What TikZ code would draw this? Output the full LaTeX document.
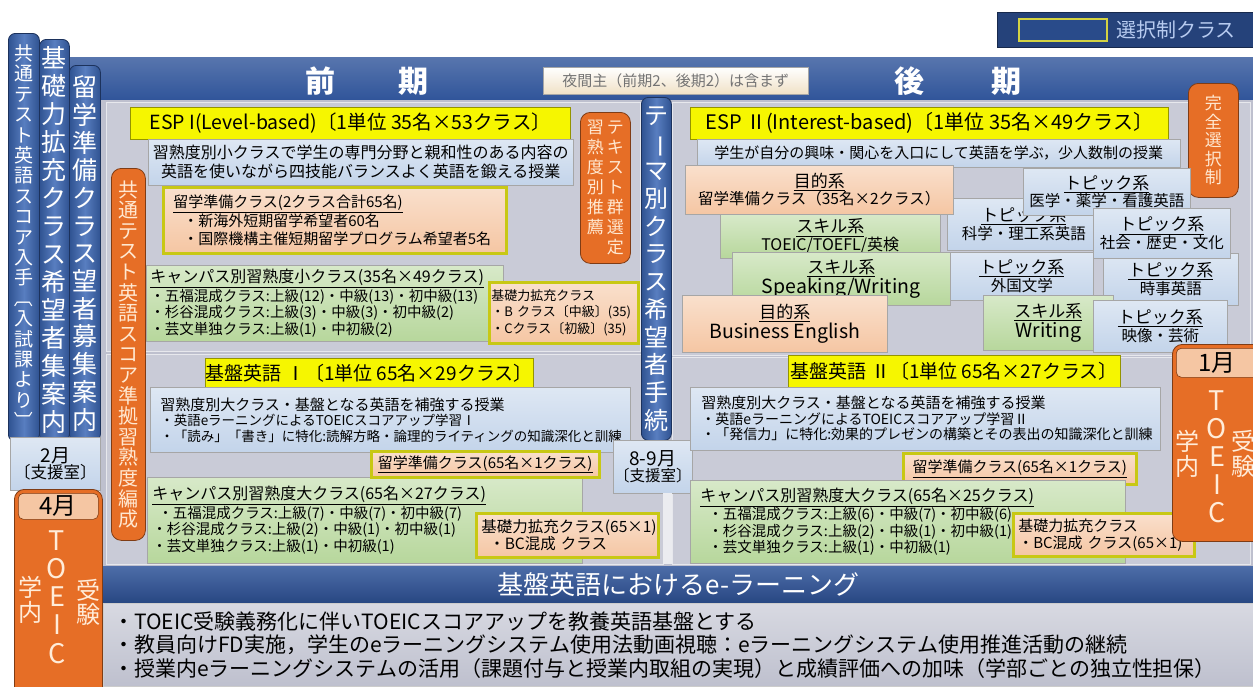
\documentclass[tikz,border=0pt]{standalone}
\usepackage{fontspec}
\setmainfont{Noto Sans CJK JP}
\usepackage{graphicx}
\definecolor{bggray}{HTML}{BEC0CE}
\definecolor{pngray}{HTML}{C9CBD7}
\definecolor{hdrblue}{HTML}{2E5399}
\definecolor{tabblue}{HTML}{3B67B5}
\definecolor{lblue}{HTML}{C3D4EA}
\definecolor{peach}{HTML}{F5C6A3}
\definecolor{mgreen}{HTML}{B7D79C}
\definecolor{ylw}{HTML}{F6F600}
\definecolor{orng}{HTML}{E66E26}
\definecolor{ybord}{HTML}{C8C814}
\definecolor{cream}{HTML}{FAF5E0}
\definecolor{legtext}{HTML}{B7CBF0}
\makeatletter
\newcommand\vtext[2]{\vtop{\baselineskip=#1\lineskiplimit=-\maxdimen\@tfor\vt@c:=#2\do{\hbox to 1em{\hss\vt@c\hss}}}}
\makeatother
\newcommand\rot[1]{\rotatebox[origin=c]{-90}{#1}}
\newcommand\FS[2]{\fontsize{#1}{#2}\selectfont}
\newcommand\BX[7]{\node[anchor=north west,inner sep=0pt,minimum width={(#5-#3)*1pt},minimum height={(#6-#4)*1pt},#1] (#2) at (#3,#4) {#7};}
\tikzset{
  bx/.style={draw=black!35, line width=0.5pt},
  lb/.style={bx, top color=lblue!55!white, bottom color=lblue},
  pk/.style={bx, top color=peach!55!white, bottom color=peach},
  gr/.style={bx, top color=mgreen!55!white, bottom color=mgreen},
  ypk/.style={pk, draw=ybord, line width=2.5pt},
  yb/.style={fill=ylw, draw=ylw!60!black, line width=0.5pt},
  vtab/.style={left color=tabblue!80!black, right color=tabblue!80!black, middle color=tabblue!85!white, draw=hdrblue!60!black, line width=0.8pt, rounded corners=7pt, text=white},
  otab/.style={fill=orng, draw=orng!55!black, line width=0.8pt, rounded corners=10pt, text=white!82!orange},
  lab/.style={fill=peach, draw=orng!55!black, line width=0.6pt, rounded corners=5pt},
  panel/.style={fill=pngray, draw=white!55!pngray, line width=1pt}
}
\begin{document}
\begin{tikzpicture}[x=1pt,y=-1pt]
\useasboundingbox (0,0) rectangle (1253,686);
\fill[white] (0,0) rectangle (1253,686);

% legend
\BX{fill=hdrblue!80!black, draw=hdrblue!50!black}{leg}{997}{12}{1253}{47}{}
\BX{draw=ybord!80!white, line width=1.6pt, fill=hdrblue!90!black}{legsw}{1018}{18}{1106}{40}{}
\node[anchor=west, text=legtext, font=\FS{20}{20}, inner sep=0pt] (legt) at (1116,30) {選択制クラス};

% header bar and background
\BX{top color=hdrblue!80!white, bottom color=hdrblue, draw=none}{hdr}{70}{57}{1253}{102}{}
\BX{fill=bggray, draw=none}{mainbg}{100}{100}{1253}{566}{}
\BX{panel}{pLT}{106}{102}{640}{351}{}
\BX{panel}{pLB}{106}{354}{663}{564}{}
\BX{panel}{pRT}{672}{102}{1250}{355}{}
\BX{panel}{pRB}{672}{357}{1250}{564}{}
\node[text=white, font=\FS{30}{30}\bfseries] (zen) at (367,81) {前\hspace{64pt}期};
\node[text=white, font=\FS{30}{30}\bfseries] (kou) at (958,81) {後\hspace{67pt}期};
\BX{bx, top color=white, bottom color=cream!80!brown!90!white, text=black!55, font=\FS{15}{15}}{note}{543}{67}{808}{94}{夜間主（前期2、後期2）は含まず}

% left tabs
\BX{vtab, font=\FS{19}{19}}{tab1}{8}{33}{39}{441}{\vtext{20.4pt}{共通テスト英語スコア入手{\rot{〔}}入試課より{\rot{〕}}}}
\BX{vtab, font=\FS{25}{25}}{tab2}{39}{39}{69}{441}{\vtext{28pt}{基礎力拡充クラス希望者集案内}}
\BX{vtab, font=\FS{25}{25}}{tab3}{69}{65}{100}{441}{\vtext{27.7pt}{留学準備クラス望者募集案内}}
\BX{lb, align=center}{feb}{10}{437}{100}{490}{{\FS{19}{21}2月}\\{\FS{16.5}{19}〔支援室〕}}

% left TOEIC
\BX{otab}{toeL}{14}{489}{102}{700}{}
\BX{lab, font=\FS{24}{24}}{aprL}{18}{493}{98}{519}{4月}
\node[text=white!85!orange, font=\FS{27}{27}] (toeicL) at (57,597) {\vtext{28.2pt}{TOEIC}};
\node[text=white!85!orange, font=\FS{24}{24}] (gakL) at (30,600) {\vtext{25pt}{学内}};
\node[text=white!85!orange, font=\FS{24}{24}] (jukL) at (88,602) {\vtext{24pt}{受験}};

% orange vertical
\BX{otab, font=\FS{20}{20}}{kyotsu}{111}{168}{145}{540}{\vtext{20.6pt}{共通テスト英語スコア準拠習熟度編成}}

% ESP I
\BX{yb, font=\FS{19.5}{20}}{esp1}{130}{107}{570}{139}{ESP I(Level-based)〔1単位 35名×53クラス〕}
\BX{lb, align=center, font=\FS{16}{19}}{esp1d}{148}{139}{573}{185}{習熟度別小クラスで学生の専門分野と親和性のある内容の\\英語を使いながら四技能バランスよく英語を鍛える授業}
\BX{ypk, align=left, text width=323pt, font=\FS{15}{17.5}}{ryu1}{162}{186}{505}{252}{\underline{留学準備クラス(2クラス合計65名)}\\\hspace*{10pt}・新海外短期留学希望者60名\\\hspace*{10pt}・国際機構主催短期留学プログラム希望者5名}
\BX{gr, align=left, text width=349pt, font=\FS{14.5}{16.5}}{camp1}{146}{265}{503}{341}{{\FS{16}{17}\underline{キャンパス別習熟度小クラス(35名×49クラス)}}\\・五福混成クラス:上級(12)・中級(13)・初中級(13)\\・杉谷混成クラス:上級(3)・中級(3)・初中級(2)\\・芸文単独クラス:上級(1)・中初級(2)}
\BX{ypk, align=left, text width=145pt, font=\FS{13}{16.5}}{kiso1}{488}{281}{637}{342}{基礎力拡充クラス\\\mbox{・B クラス〔中級〕(35)}\\\mbox{・Cクラス〔初級〕(35)}}
\BX{otab, font=\FS{17}{17}}{txtsel}{580}{112}{630}{263}{\vtext{20pt}{習熟度別推薦}\hspace{3pt}\vtext{20pt}{テキスト群選定}}

% Kiban I
\BX{yb, font=\FS{19}{20}}{kb1}{205}{358}{533}{388}{基盤英語 Ⅰ〔1単位 65名×29クラス〕}
\BX{lb, align=left, text width=460pt, font=\FS{13.5}{15.5}}{kb1d}{150}{387}{630}{452}{{\FS{15}{19}習熟度別大クラス・基盤となる英語を補強する授業}\\・英語eラーニングによるTOEICスコアアップ学習Ⅰ\\・「読み」「書き」に特化:読解方略・論理的ライティングの知識深化と訓練}
\BX{gr, align=left, text width=425pt, font=\FS{14.5}{16.5}}{camp1b}{147}{477}{582}{563}{{\FS{16}{17}\underline{キャンパス別習熟度大クラス(65名×27クラス)}}\\\hspace*{6pt}・五福混成クラス:上級(7)・中級(7)・初中級(7)\\・杉谷混成クラス:上級(2)・中級(1)・初中級(1)\\・芸文単独クラス:上級(1)・中初級(1)}
\BX{ypk, font=\FS{15}{15}}{ryu1b}{370}{450}{598}{476}{\underline{留学準備クラス(65名×1クラス)}}
\BX{ypk, align=left, text width=172pt, font=\FS{15.5}{17}}{kiso1b}{475}{512}{657}{556}{基礎力拡充クラス(65×1)\\\hspace*{8pt}・BC混成 クラス}

% center
\BX{vtab, font=\FS{24}{24}}{theme}{641}{97}{671}{440}{\vtext{27.7pt}{テ{\rot{ー}}マ別クラス希望者手続}}
\BX{lb, align=center}{aug}{613}{440}{692}{493}{{\FS{19}{21}8-9月}\\{\FS{15.5}{19}〔支援室〕}}
\BX{fill=white!70!bggray, draw=none}{sepv}{663}{493}{672}{564}{}

% ESP II
\BX{yb, font=\FS{20}{20}}{esp2}{690}{107}{1168}{139}{ESP Ⅱ(Interest-based)〔1単位 35名×49クラス〕}
\BX{lb, font=\FS{15}{16}}{esp2d}{697}{139}{1180}{167}{学生が自分の興味・関心を入口にして英語を学ぶ，少人数制の授業}
\BX{otab, font=\FS{17}{17}}{kanzen}{1188}{83}{1238}{197}{\vtext{18.5pt}{完全選択制}}

\BX{lb, align=center}{jiji}{1103}{253}{1238}{305}{{\FS{17}{20}\underline{トピック系}}\\{\FS{15.5}{18}時事英語}}
\BX{lb, align=center}{kagaku}{947}{198}{1100}{250}{{\FS{17}{20}\underline{トピック系}}\\{\FS{15.5}{18}科学・理工系英語}}
\BX{lb, align=center}{igaku}{1023}{168}{1190}{215}{{\FS{17}{20}\underline{トピック系}}\\{\FS{15.5}{18}医学・薬学・看護英語}}
\BX{lb, align=center}{shakai}{1093}{208}{1230}{258}{{\FS{17}{20}\underline{トピック系}}\\{\FS{15.5}{18}社会・歴史・文化}}
\BX{lb, align=center}{gaikoku}{950}{252}{1093}{300}{{\FS{17}{20}\underline{トピック系}}\\{\FS{15.5}{18}外国文学}}
\BX{gr, align=center}{writing}{983}{295}{1113}{350}{{\FS{17}{20}\underline{スキル系}}\\{\FS{19.5}{20}Writing}}
\BX{lb, align=center}{eizo}{1093}{300}{1227}{352}{{\FS{17}{20}\underline{トピック系}}\\{\FS{15.5}{18}映像・芸術}}
\BX{gr, align=center}{toeic}{720}{214}{940}{258}{{\FS{17}{20}\underline{スキル系}}\\{\FS{16}{18}TOEIC/TOEFL/英検}}
\BX{pk, align=center}{mok1}{685}{165}{953}{214}{{\FS{17}{20}\underline{目的系}}\\{\FS{15.5}{18}留学準備クラス（35名×2クラス）}}
\BX{gr, align=center}{speak}{732}{252}{950}{305}{{\FS{17}{20}\underline{スキル系}}\\{\FS{19.5}{20}Speaking/Writing}}
\BX{pk, align=center}{biz}{682}{295}{887}{352}{{\FS{17}{20}\underline{目的系}}\\{\FS{19.5}{20}Business English}}

% Kiban II
\BX{yb, font=\FS{19}{20}}{kb2}{788}{355}{1120}{387}{基盤英語 Ⅱ〔1単位 65名×27クラス〕}
\BX{lb, align=left, text width=448pt, font=\FS{14}{15.5}}{kb2d}{690}{387}{1160}{450}{{\FS{15}{19}習熟度別大クラス・基盤となる英語を補強する授業}\\・英語eラーニングによるTOEICスコアアップ学習Ⅱ\\・「発信力」に特化:効果的プレゼンの構築とその表出の知識深化と訓練}
\BX{ypk, font=\FS{15}{15}}{ryu2b}{902}{452}{1135}{483}{\underline{留学準備クラス(65名×1クラス)}}
\BX{gr, align=left, text width=415pt, font=\FS{14.5}{16.5}}{camp2b}{690}{480}{1125}{563}{{\FS{16}{17}\underline{キャンパス別習熟度大クラス(65名×25クラス)}}\\\hspace*{8pt}・五福混成クラス:上級(6)・中級(7)・初中級(6)\\\hspace*{8pt}・杉谷混成クラス:上級(2)・中級(1)・初中級(1)\\\hspace*{8pt}・芸文単独クラス:上級(1)・中初級(1)}
\BX{ypk, align=left, text width=171pt, font=\FS{15}{17}}{kiso2b}{1012}{512}{1193}{555}{基礎力拡充クラス\\・BC混成 クラス(65×1)}

% right TOEIC
\BX{otab}{toeR}{1172}{344}{1265}{541}{}
\BX{lab, font=\FS{24}{24}}{janR}{1176}{348}{1258}{377}{1月}
\node[text=white!85!orange, font=\FS{27}{27}] (toeicR) at (1217,457) {\vtext{28pt}{TOEIC}};
\node[text=white!85!orange, font=\FS{24}{24}] (gakR) at (1187,454) {\vtext{25pt}{学内}};
\node[text=white!85!orange, font=\FS{24}{24}] (jukR) at (1243,454) {\vtext{25pt}{受験}};

% e-learning
\BX{top color=hdrblue!85!white, bottom color=hdrblue!85!black, draw=none, text=white, font=\FS{26}{26}}{elbar}{103}{566}{1253}{603}{基盤英語におけるe-ラーニング}
\BX{top color=bggray!60!white, bottom color=bggray, draw=black!20, align=left, text width=1130pt, font=\FS{21}{23.5}}{elbox}{103}{603}{1253}{686}{・TOEIC受験義務化に伴いTOEICスコアアップを教養英語基盤とする\\・教員向けFD実施，学生のeラーニングシステム使用法動画視聴：eラーニングシステム使用推進活動の継続\\・授業内eラーニングシステムの活用（課題付与と授業内取組の実現）と成績評価への加味（学部ごとの独立性担保）}
\end{tikzpicture}
\end{document}
